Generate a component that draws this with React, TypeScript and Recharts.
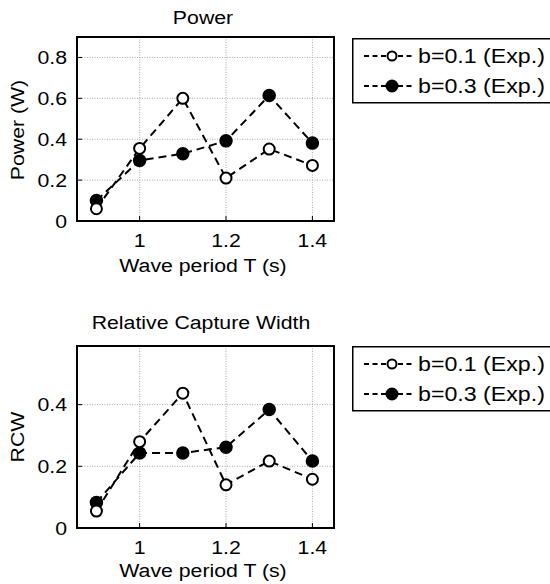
import React from 'react';
import { LineChart, Line, XAxis, YAxis, CartesianGrid } from 'recharts';

// wave period T (s)
const periods = [0.9, 1.0, 1.1, 1.2, 1.3, 1.4];

// power (W)
const powerB01 = [0.06, 0.355, 0.6, 0.21, 0.352, 0.272];
const powerB03 = [0.1, 0.296, 0.329, 0.392, 0.614, 0.381];

// relative capture width
const rcwB01 = [0.055, 0.28, 0.437, 0.14, 0.217, 0.158];
const rcwB03 = [0.083, 0.243, 0.243, 0.262, 0.384, 0.217];

const xTicks = [1, 1.2, 1.4];
const powerTicks = [0, 0.2, 0.4, 0.6, 0.8];
const rcwTicks = [0, 0.2, 0.4];
const xDomain = [0.855, 1.45];

const seriesNames = ['b=0.1 (Exp.)', 'b=0.3 (Exp.)'];

const FONT = '"Liberation Sans", Arial, sans-serif';
const SX = 1.12;

const toRows = (a: number[], b: number[]) =>
    periods.map((t, i) => ({ t, b01: a[i], b03: b[i] }));

const powerData = toRows(powerB01, powerB03);
const rcwData = toRows(rcwB01, rcwB03);

const fmt = (v: number) => String(Math.round(v * 10) / 10);

// text stretched a bit wider, like the original export
const SText = ({ x, y, text, size = 19, anchor = 'middle', rotate = 0, sx = SX }: any) => (
    <text
        transform={`translate(${x},${y}) rotate(${rotate}) scale(${sx},1)`}
        textAnchor={anchor}
        dominantBaseline="central"
        fontSize={size}
        fontFamily={FONT}
        fill="#000"
    >
        {text}
    </text>
);

const XTick = ({ x, y, payload }: any) => <SText x={x} y={y} text={fmt(payload.value)} />;
const YTick = ({ x, y, payload }: any) => <SText x={x} y={y} text={fmt(payload.value)} anchor="end" />;

const LegendBox = ({ top }: { top: number }) => (
    <svg
        width={200}
        height={66}
        style={{ position: 'absolute', left: 352, top, overflow: 'visible' }}
    >
        <rect x={0.75} y={0.75} width={210} height={64} fill="#fff" stroke="#000" strokeWidth={1.5} />
        {seriesNames.map((name, i) => {
            const cy = 18 + i * 30;
            return (
                <g key={name}>
                    <line x1={12} x2={63} y1={cy} y2={cy} stroke="#000" strokeWidth={2} strokeDasharray="5 3.5" />
                    <circle
                        cx={40}
                        cy={cy}
                        r={i === 0 ? 4.5 : 5.5}
                        fill={i === 0 ? '#fff' : '#000'}
                        stroke="#000"
                        strokeWidth={2}
                    />
                    <SText x={66} y={cy} text={name} anchor="start" size={20} sx={1.16} />
                </g>
            );
        })}
    </svg>
);

// plain box around each plot area (top/right edges of the axes frame)
const Frame = ({ top, height }: { top: number; height: number }) => (
    <div
        style={{
            position: 'absolute',
            left: 76,
            top: top - 1,
            width: 259,
            height: height + 2,
            boxSizing: 'border-box',
            border: '2px solid #000',
            zIndex: 10,
            pointerEvents: 'none',
        }}
    />
);

const Panel = ({ data, yMax, yTicks, height, margin }: any) => (
    <LineChart width={550} height={height} data={data} margin={margin}>
        <CartesianGrid stroke="#a8a8a8" strokeDasharray="1 1.5" />
        <XAxis
            dataKey="t"
            type="number"
            domain={xDomain}
            ticks={xTicks}
            allowDataOverflow
            height={30}
            stroke="#000"
            tickSize={-5}
            tickMargin={24}
            tick={<XTick />}
        />
        <YAxis
            type="number"
            domain={[0, yMax]}
            ticks={yTicks}
            allowDataOverflow
            width={60}
            stroke="#000"
            tickSize={-5}
            tickMargin={15}
            tick={<YTick />}
        />
        <Line
            dataKey="b03"
            stroke="#000"
            strokeWidth={2}
            strokeDasharray="8 5"
            dot={{ r: 6, fill: '#000', stroke: '#000', strokeWidth: 1.5, strokeDasharray: '0' }}
            isAnimationActive={false}
        />
        <Line
            dataKey="b01"
            stroke="#000"
            strokeWidth={2}
            strokeDasharray="8 5"
            dot={{ r: 5.5, fill: '#fff', stroke: '#000', strokeWidth: 2, strokeDasharray: '0' }}
            isAnimationActive={false}
        />
    </LineChart>
);

export default function App() {
    return (
        <div style={{ position: 'absolute', left: 0, top: 0, width: 550, height: 584, background: '#fff' }}>
            <div style={{ position: 'absolute', left: 0, top: 0 }}>
                <Panel
                    data={powerData}
                    yMax={0.9}
                    yTicks={powerTicks}
                    height={290}
                    margin={{ top: 37, right: 216, bottom: 39, left: 17 }}
                />
            </div>
            <div style={{ position: 'absolute', left: 0, top: 290 }}>
                <Panel
                    data={rcwData}
                    yMax={0.59}
                    yTicks={rcwTicks}
                    height={294}
                    margin={{ top: 56, right: 216, bottom: 26, left: 17 }}
                />
            </div>
            <svg width={550} height={584} style={{ position: 'absolute', left: 0, top: 0, pointerEvents: 'none' }}>
                <SText x={203} y={17} text="Power" />
                <SText x={203} y={265} text="Wave period T (s)" />
                <SText x={17} y={130} text="Power (W)" rotate={-90} />
                <SText x={201} y={322} text="Relative Capture Width" />
                <SText x={203} y={570} text="Wave period T (s)" />
                <SText x={17} y={437} text="RCW" rotate={-90} />
            </svg>
            <Frame top={37} height={184} />
            <Frame top={346} height={182} />
            <LegendBox top={38} />
            <LegendBox top={346} />
        </div>
    );
}
